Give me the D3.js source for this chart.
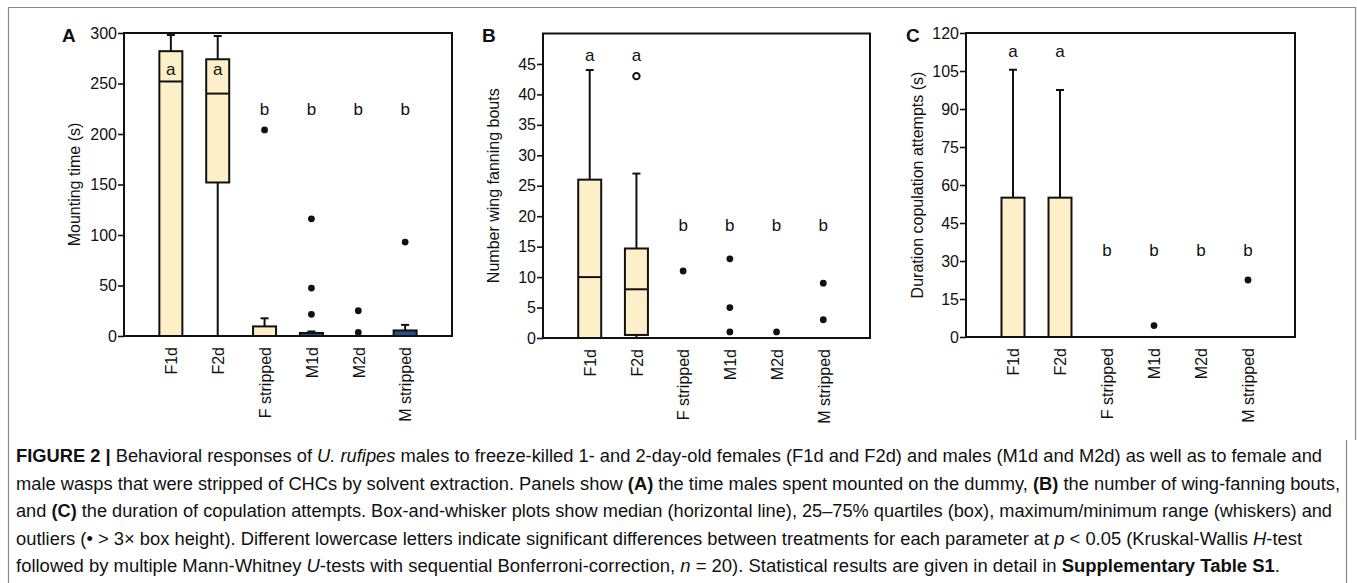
<!DOCTYPE html>
<html>
<head>
<meta charset="utf-8">
<script src="https://cdn.jsdelivr.net/npm/d3@7"></script>
<style>
  body { margin: 0; background: #fff; }
  text { font-family: "Liberation Sans", Arial, sans-serif; fill: #111; }
  .caption text { font-family: "Liberation Sans Narrow", "Liberation Sans", Arial, sans-serif; white-space: pre; }
</style>
</head>
<body>
<div id="chart"></div>
<script>
var groups = ["F1d", "F2d", "F stripped", "M1d", "M2d", "M stripped"];
var sex = ["F", "F", "F", "M", "M", "M"];

// [min, q1, median, q3, max] per group, null = no box
var mountStats = [[0, 0, 252, 282, 298], [0, 152, 240, 274, 297], [0, 0, 0, 9.5, 17.5], [0, 0, 0, 3, 4.5], null, [0, 0, 0, 5.5, 11]];
var mountOutliers = [[], [], [204], [116, 47.5, 21.5], [25, 3.5], [93]];
var mountLetters = ["a", "a", "b", "b", "b", "b"];
var mountTicks = [0, 50, 100, 150, 200, 250, 300];

var fanStats = [[0, 0, 10, 26, 44], [0, 0.5, 8, 14.7, 27], null, null, null, null];
var fanOutliers = [[], [], [11], [13, 5, 1], [1], [9, 3]];
var fanOpen = [[], [43], [], [], [], []];
var fanLetters = ["a", "a", "b", "b", "b", "b"];
var fanTicks = [0, 5, 10, 15, 20, 25, 30, 35, 40, 45];

var copStats = [[0, 0, 0, 55, 105.5], [0, 0, 0, 55, 97.5], null, null, null, null];
var copOutliers = [[], [], [], [4.5], [], [22.5]];
var copLetters = ["a", "a", "b", "b", "b", "b"];
var copTicks = [0, 15, 30, 45, 60, 75, 90, 105, 120];

var colors = { F: "#fdefc8", M: "#2d4e8e" };

var W = 1357, H = 583;
var svg = d3.select("#chart").append("svg")
    .attr("width", W)
    .attr("height", H);

// outer frame
svg.append("path")
    .attr("d", "M8.5,583 V7.5 H1355.5 V440")
    .attr("fill", "none")
    .attr("stroke", "#8a8a8a")
    .attr("stroke-width", 1.2);
svg.append("path")
    .attr("d", "M1346.5,440 V583")
    .attr("fill", "none")
    .attr("stroke", "#8a8a8a")
    .attr("stroke-width", 1.2);

var panels = [
    { letter: "A", lx: 62, left: 124, right: 452, top: 33, bottom: 336, domain: [0, 300], ticks: mountTicks,
      title: "Mounting time (s)", tx: 74, stats: mountStats, out: mountOutliers, open: null,
      letters: mountLetters, letterY: [264, 264, 225, 225, 225, 225] },
    { letter: "B", lx: 482, left: 543, right: 870, top: 33.5, bottom: 338, domain: [0, 50], ticks: fanTicks,
      title: "Number wing fanning bouts", tx: 493, stats: fanStats, out: fanOutliers, open: fanOpen,
      letters: fanLetters, letterY: [46.5, 46.5, 18.6, 18.6, 18.6, 18.6] },
    { letter: "C", lx: 906, left: 966, right: 1295, top: 33, bottom: 337, domain: [0, 120], ticks: copTicks,
      title: "Duration copulation attempts (s)", tx: 917, stats: copStats, out: copOutliers, open: null,
      letters: copLetters, letterY: [112.7, 112.7, 34.5, 34.5, 34.5, 34.5] }
];

var boxW = 23, capW = 8;

panels.forEach(function(p) {
    var g = svg.append("g");
    var x = d3.scalePoint().domain(groups).range([p.left, p.right]).padding(1);
    var y = d3.scaleLinear().domain(p.domain).range([p.bottom, p.top]);

    // y axis
    var yAxis = d3.axisLeft(y).tickValues(p.ticks).tickSize(6).tickPadding(1).tickSizeOuter(0);
    var ya = g.append("g")
        .attr("transform", "translate(" + p.left + ",0)")
        .call(yAxis);
    ya.select(".domain").remove();
    ya.selectAll("line").attr("stroke", "#111").attr("stroke-width", 1.6);
    ya.selectAll("text").style("font-size", "16px").attr("fill", "#111");

    // x labels
    var xAxis = d3.axisBottom(x).tickSize(0).tickPadding(0);
    var xa = g.append("g")
        .attr("transform", "translate(0," + p.bottom + ")")
        .call(xAxis);
    xa.select(".domain").remove();
    xa.selectAll("text")
        .style("font-size", "16px")
        .attr("fill", "#111")
        .attr("text-anchor", "end")
        .attr("transform", "rotate(-90)")
        .attr("x", -11)
        .attr("y", 0)
        .attr("dy", "0.36em");

    // whiskers + boxes
    groups.forEach(function(name, i) {
        var s = p.stats[i];
        if (!s) return;
        var cx = x(name);
        var wg = g.append("g").attr("stroke", "#111").attr("stroke-width", 2);
        if (s[4] > s[3]) {
            wg.append("line").attr("x1", cx).attr("x2", cx).attr("y1", y(s[3])).attr("y2", y(s[4]));
            wg.append("line").attr("x1", cx - capW / 2).attr("x2", cx + capW / 2).attr("y1", y(s[4])).attr("y2", y(s[4]));
        }
        if (s[1] > s[0]) {
            wg.append("line").attr("x1", cx).attr("x2", cx).attr("y1", y(s[0])).attr("y2", y(s[1]));
        }
        g.append("rect")
            .attr("x", cx - boxW / 2)
            .attr("y", y(s[3]))
            .attr("width", boxW)
            .attr("height", y(s[1]) - y(s[3]))
            .attr("fill", colors[sex[i]])
            .attr("stroke", "#111")
            .attr("stroke-width", 2);
        if (s[2] > s[1]) {
            g.append("line")
                .attr("x1", cx - boxW / 2).attr("x2", cx + boxW / 2)
                .attr("y1", y(s[2])).attr("y2", y(s[2]))
                .attr("stroke", "#111").attr("stroke-width", 2);
        }
    });

    // outliers
    groups.forEach(function(name, i) {
        g.selectAll(null).data(p.out[i]).enter().append("circle")
            .attr("cx", x(name))
            .attr("cy", function(d) { return y(d); })
            .attr("r", 3.4)
            .attr("fill", "#111");
        if (p.open) {
            g.selectAll(null).data(p.open[i]).enter().append("circle")
                .attr("cx", x(name))
                .attr("cy", function(d) { return y(d); })
                .attr("r", 3.2)
                .attr("fill", "#fff")
                .attr("stroke", "#111")
                .attr("stroke-width", 2);
        }
    });

    // significance letters
    g.selectAll(".sig").data(p.letters).enter().append("text")
        .attr("x", function(d, i) { return x(groups[i]); })
        .attr("y", function(d, i) { return y(p.letterY[i]); })
        .attr("dy", "0.35em")
        .attr("text-anchor", "middle")
        .style("font-size", "17px")
        .text(function(d) { return d; });

    // plot frame
    g.append("rect")
        .attr("x", p.left)
        .attr("y", p.top)
        .attr("width", p.right - p.left)
        .attr("height", p.bottom - p.top)
        .attr("fill", "none")
        .attr("stroke", "#111")
        .attr("stroke-width", 2);

    // axis title
    g.append("text")
        .attr("transform", "translate(" + p.tx + "," + ((p.top + p.bottom) / 2) + ") rotate(-90)")
        .attr("text-anchor", "middle")
        .attr("dy", "0.35em")
        .style("font-size", "16px")
        .text(p.title);

    // panel letter
    g.append("text")
        .attr("x", p.lx)
        .attr("y", 42)
        .style("font-size", "19px")
        .style("font-weight", "bold")
        .text(p.letter);
});

// caption
var captionLines = [
    [["FIGURE 2 | ", "b"], ["Behavioral responses of ", ""], ["U. rufipes", "i"], [" males to freeze-killed 1- and 2-day-old females (F1d and F2d) and males (M1d and M2d) as well as to female and", ""]],
    [["male wasps that were stripped of CHCs by solvent extraction. Panels show ", ""], ["(A)", "b"], [" the time males spent mounted on the dummy, ", ""], ["(B)", "b"], [" the number of wing-fanning bouts,", ""]],
    [["and ", ""], ["(C)", "b"], [" the duration of copulation attempts. Box-and-whisker plots show median (horizontal line), 25\u201375% quartiles (box), maximum/minimum range (whiskers) and", ""]],
    [["outliers (\u2022 > 3\u00d7 box height). Different lowercase letters indicate significant differences between treatments for each parameter at ", ""], ["p", "i"], [" < 0.05 (Kruskal-Wallis ", ""], ["H", "i"], ["-test", ""]],
    [["followed by multiple Mann-Whitney ", ""], ["U", "i"], ["-tests with sequential Bonferroni-correction, ", ""], ["n", "i"], [" = 20). Statistical results are given in detail in ", ""], ["Supplementary Table S1", "b"], [".", ""]]
];
var captionEnds = [1322, 1340, 1332, 1302, 1280];

var cap = svg.append("g").attr("class", "caption");
captionLines.forEach(function(line, i) {
    var t = cap.append("text")
        .attr("x", 16)
        .attr("y", 462 + i * 27.5)
        .attr("textLength", captionEnds[i] - 16)
        .attr("lengthAdjust", "spacingAndGlyphs")
        .style("font-size", "17.5px")
        .attr("fill", "#222");
    line.forEach(function(seg) {
        t.append("tspan")
            .style("font-weight", seg[1] === "b" ? "bold" : "normal")
            .style("font-style", seg[1] === "i" ? "italic" : "normal")
            .text(seg[0]);
    });
});
</script>
</body>
</html>
